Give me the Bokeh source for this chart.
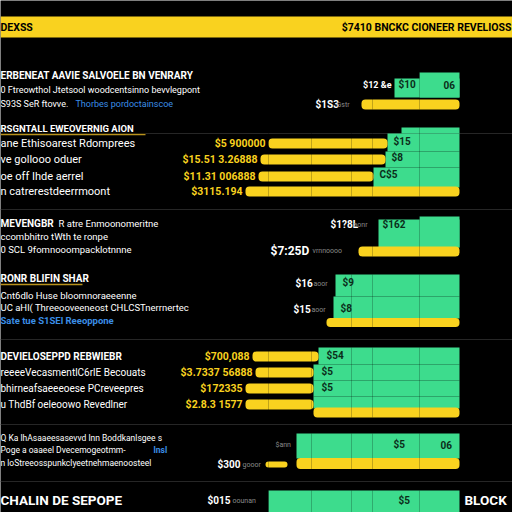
import re
from bokeh.plotting import figure
from bokeh.models import Range1d
from bokeh.core.properties import value
from bokeh.embed import file_html
from bokeh.resources import INLINE

# ---------------- data ----------------
HEADER_LEFT = "DEXSS"
HEADER_RIGHT = "$7410 BNCKC CIONEER REVELIOSS"

S1_TITLE = "ERBENEAT AAVIE SALVOELE BN VENRARY"
S1_LINES = ["0 Ftreowthol Jtetsool woodcentsinno bevvlegpont", "S93S SeR ftovve."]
S1_BLUE = "Thorbes pordoctainscoe"
S1_CAP = 40
S1_GREEN = 65
S1_YELLOW = 98
S1_TAGS = ["$10", "06"]
S1_LABELS = ["$12", "$1S3"]

S2_TITLE = "RSGNTALL EWEOVERNIG AION"
S2_ROWS = ["ane Ethisoarest Rdomprees", "ve gollooo oduer", "oe off Ihde aerrel", "n catrerestdeerrmoont"]
S2_VALUES = ["$5 900000", "$15.51 3.26888", "$11.31 006888", "$3115.194"]
S2_CAP = 58
S2_YELLOW = [119, 125, 115, 214]
S2_GREEN = [72, 74, 86, 0]
S2_TAGS = ["$15", "$8", "C$5", ""]

S3_TITLE_BOLD = "MEVENGBR"
S3_TITLE_REST = "R atre Enmoonomeritne"
S3_LINES = ["ccombhitro tWth te ronpe", "0 SCL 9fomnooompacklotnnne"]
S3_CAP = 40
S3_GREEN = 81
S3_YELLOW = 101
S3_LABELS = ["$1?8L", "$7:25D"]
S3_TAG = "$162"

S4_TITLE = "RONR BLIFIN SHAR"
S4_LINES = ["Cnt6dlo Huse bloomnoraeeenne", "UC aHl( Threeooveeneost CHLCSTnerrnertec"]
S4_BLUE = "Sate tue S1SEl Reeoppone"
S4_GREEN = [124, 126]
S4_YELLOW = 133
S4_LABELS = ["$16", "$15"]
S4_TAGS = ["$9", "$8"]

S5_TITLE = "DEVIELOSEPPD REBWIEBR"
S5_ROWS = ["reeeeVecasmentlC6rlE Becouats", "bhirneafsaeeeoese   PCreveepres", "u ThdBf oeleoowo   Revedlner"]
S5_VALUES = ["$700,088", "$3.7337 56888", "$172335", "$2.8.3 1577"]
S5_YELLOW = [66, 58, 68, 68]
S5_GREEN = [141, 146, 146, 146]
S5_BASE = 146
S5_TAGS = ["$54", "$5", "$5", ""]

S6_LINES = ["Q Ka lhAsaaeesasevvd lnn Boddkanlsgee s", "Poge a oaaeel Dvecemogeotmm-", "n loStreeosspunkclyeetnehmaenoosteel"]
S6_BLUE = "lnsl"
S6_GREEN = 163
S6_YELLOW = 163
S6_PILL = 22
S6_LABELS = ["$ann", "$300"]
S6_TAGS = ["$5", "06"]

S7_TITLE = "CHALIN DE SEPOPE"
S7_RIGHT = "BLOCK"
S7_GREEN = 191
S7_LABEL = "$015"
S7_TAG = "$5"

DIVIDERS = [191, 148, 108, 87, 40]

# ---------------- style ----------------
FONT = "Roboto"
YEL = "#F9D21F"
GRN = "#3DDC8D"
DARK = "#0B2E1A"
BLUE = "#3B8EE6"
GRAY = "#8A8A8A"
SEP = "#262626"
GOLD = "#B8921E"
END = 459

p = figure(width=512, height=512, x_range=Range1d(0, 512), y_range=Range1d(512, 0),
           output_backend="svg", toolbar_location=None, min_border=0,
           x_axis_location=None, y_axis_location=None,
           background_fill_color="black", border_fill_color="black",
           outline_line_color=None)
p.xgrid.visible = False
p.ygrid.visible = False

texts = []


def T(x, y, s, color="white", size=9, bold=False, align="left"):
    texts.append((x, y, s, color, size, bold, align))


def green(v, top, bottom):
    p.quad(left=[END - v], right=[END], top=[top], bottom=[bottom], color=GRN, line_color=None)


def yellow(y, v, g=0, h=10):
    p.hbar(y=[y], left=[END - v - g], right=[END - g], height=h, color=YEL,
           line_color=None, border_radius=4)


# header band
p.quad(left=[0], right=[512], top=[16], bottom=[37], color=YEL, line_color=None)
T(0, 27, HEADER_LEFT, "black", 10.5, True)
T(511, 27, HEADER_RIGHT, "black", 10.5, True, "right")

# separators
for y, x0 in [(133, 145), (209, 0), (339, 0), (424, 0), (481, 0)]:
    p.segment(x0=[x0], x1=[512], y0=[y], y1=[y], line_color=SEP, line_width=1)
p.segment(x0=[0], x1=[145], y0=[134], y1=[134], line_color=GOLD, line_width=1.5)
p.segment(x0=[0], x1=[82], y0=[284], y1=[284], line_color=GOLD, line_width=1.5)

# ---- section 1
green(S1_CAP, 72, 97)
green(S1_GREEN, 78, 97)
yellow(104, S1_YELLOW)
T(0, 75, S1_TITLE, "white", 10, True)
T(0, 89, S1_LINES[0], "white", 9)
T(0, 103, S1_LINES[1], "white", 9)
T(75, 103, S1_BLUE, BLUE, 9)
T(END - S1_GREEN - 3, 84, S1_LABELS[0] + " &e", "white", 9, True, "right")
T(END - S1_GREEN + 4, 84, S1_TAGS[0], DARK, 10, True)
T(END - 16, 84, S1_TAGS[1], DARK, 10, True)
T(END - S1_YELLOW - 46, 104, S1_LABELS[1], "white", 10, True)
T(END - S1_YELLOW - 25, 104, "Gstr", GRAY, 7)

# ---- section 2
rows2 = [143, 159, 176, 191]
bands2 = [(133, 151), (151, 167), (167, 187)]
green(S2_CAP, 127, 133)
for i, (t, b) in enumerate(bands2):
    green(S2_GREEN[i], t, b)
for i, y in enumerate(rows2):
    yellow(y, S2_YELLOW[i], S2_GREEN[i])
    T(0, y, S2_ROWS[i], "white", 11)
    T(END - S2_YELLOW[i] - S2_GREEN[i] - 3, y, S2_VALUES[i], YEL, 10.5, True, "right")
    if S2_TAGS[i]:
        T(END - S2_GREEN[i] + 6, y - 2, S2_TAGS[i], DARK, 10, True)
T(0, 128, S2_TITLE, "white", 9.5, True)

# ---- section 3
green(S3_CAP, 216, 247)
green(S3_GREEN, 219, 247)
yellow(251, S3_YELLOW)
T(0, 223, S3_TITLE_BOLD, "white", 10, True)
T(58, 223, S3_TITLE_REST, "white", 9.5)
T(0, 236, S3_LINES[0], "white", 9.5)
T(0, 249, S3_LINES[1], "white", 9.5)
T(END - S3_GREEN - 48, 224, S3_LABELS[0], "white", 10, True)
T(END - S3_GREEN - 25, 224, "aonr", GRAY, 7)
T(END - S3_GREEN + 4, 224, S3_TAG, DARK, 10, True)
T(END - S3_YELLOW - 88, 250, S3_LABELS[1], "white", 12, True)
T(END - S3_YELLOW - 46, 250, "vrnnoooo", GRAY, 7)

# ---- section 4
green(S4_GREEN[0], 274, 296)
green(S4_GREEN[1], 296, 318)
yellow(322, S4_YELLOW, 0, 9)
T(0, 278, S4_TITLE, "white", 10, True)
T(0, 295, S4_LINES[0], "white", 9.5)
T(0, 307, S4_LINES[1], "white", 9.5)
T(0, 320, S4_BLUE, BLUE, 9.5, True)
for i, y in enumerate([283, 309]):
    T(END - S4_GREEN[i] - 40, y, S4_LABELS[i], "white", 10, True)
    T(END - S4_GREEN[i] - 22, y, "aoor", GRAY, 7)
    T(END - S4_GREEN[i] + 7, y - 1, S4_TAGS[i], DARK, 10, True)

# ---- section 5
rows5 = [356, 372, 388, 404]
bands5 = [(347, 364), (364, 380), (380, 396), (396, 408)]
for i, (t, b) in enumerate(bands5):
    green(S5_GREEN[i], t, b)
yellow(412, S5_BASE, 0, 10)
for i, y in enumerate(rows5):
    yellow(y, S5_YELLOW[i], S5_GREEN[i])
    T(END - S5_YELLOW[i] - S5_GREEN[i] - 3, y, S5_VALUES[i], YEL, 10.5, True, "right")
    if S5_TAGS[i]:
        T(END - S5_GREEN[i] + 8, y - 1, S5_TAGS[i], DARK, 10, True)
T(0, 356, S5_TITLE, "white", 10, True)
for i, y in enumerate(rows5[1:]):
    T(0, y, S5_ROWS[i], "white", 10)

# ---- section 6
green(S6_GREEN, 433, 458)
yellow(463, S6_YELLOW, 0, 11)
p.hbar(y=[464], left=[END - S6_YELLOW - 31], right=[END - S6_YELLOW - 31 + S6_PILL], height=6,
       color=YEL, line_color=None, border_radius=3)
T(0, 437, S6_LINES[0], "white", 8.5)
T(0, 449, S6_LINES[1], "white", 8.5)
T(153, 449, S6_BLUE, BLUE, 8.5, True)
T(0, 462, S6_LINES[2], "white", 8.5)
T(END - S6_GREEN - 21, 444, S6_LABELS[0], GRAY, 7)
T(END - S6_GREEN - 79, 464, S6_LABELS[1], "white", 10, True)
T(END - S6_GREEN - 54, 464, "gooor", GRAY, 7)
T(393, 444, S6_TAGS[0], DARK, 10, True)
T(END - 19, 444, S6_TAGS[1], DARK, 10, True)

# ---- section 7
green(S7_GREEN, 490, 512)
T(0, 499, S7_TITLE, "white", 13.5, True)
T(464, 499, S7_RIGHT, "white", 13.5, True)
T(END - S7_GREEN - 61, 500, S7_LABEL, "white", 10, True)
T(END - S7_GREEN - 36, 500, "oounan", GRAY, 7)
T(398, 500, S7_TAG, DARK, 10, True)

# dividers over bars
for top, bottom in [(72, 109), (127, 196), (216, 256), (274, 327), (347, 417), (433, 469), (490, 512)]:
    xs = [END - d for d in DIVIDERS]
    p.segment(x0=xs, x1=xs, y0=[top] * len(xs), y1=[bottom] * len(xs),
              line_color="black", line_alpha=0.22, line_width=1)

for (x, y, s, color, size, bold, align) in texts:
    p.text(x=[x], y=[y], text=[s], text_color=color, text_font=value(FONT),
           text_font_size=f"{size}px", text_font_style="bold" if bold else "normal",
           text_align=align, text_baseline="middle")

html = file_html(p, INLINE)
html = re.sub(r"<body[^>]*>", '<body style="margin:0;background:#000;">', html, count=1)
open("out.html", "w").write(html)
